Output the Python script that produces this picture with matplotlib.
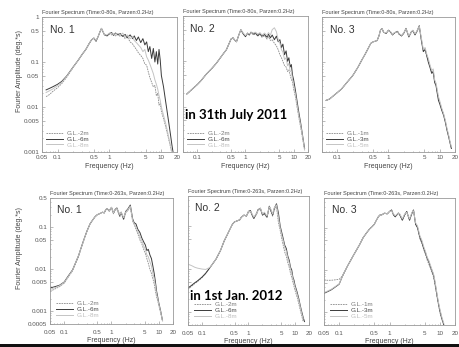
import numpy as np
import matplotlib
matplotlib.use("Agg")
import matplotlib.pyplot as plt
from matplotlib.ticker import FixedLocator, NullFormatter, LogLocator
from matplotlib.patches import Rectangle

plt.rcParams['font.family'] = ['Liberation Sans', 'DejaVu Sans']

# frequency grid (Hz) shared by every spectrum
freq = [0.05, 0.06, 0.07, 0.08, 0.1, 0.12, 0.15, 0.2, 0.25, 0.3, 0.35, 0.4, 0.45, 0.5,
        0.55, 0.6, 0.65, 0.7, 0.75, 0.8, 0.9, 1.0, 1.1, 1.2, 1.3, 1.5, 1.6, 1.8, 2.0,
        2.2, 2.5, 2.8, 3.0, 3.3, 3.6, 4.0, 4.4, 4.8, 5.2, 5.6, 6.0, 6.5, 7.0, 7.5, 8.0,
        8.5, 9.0, 9.5, 10, 11, 12, 13, 14, 15, 16, 17, 18, 20]

# ---- 31th July 2011 (Time 0-80s) ----
no1_top_2m = [None, 0.017, 0.019, 0.022, 0.027, 0.033, 0.046, 0.076, 0.11, 0.15, 0.19, 0.25, 0.31, 0.34,
              0.29, 0.36, 0.45, 0.55, 0.47, 0.41, 0.39, 0.42, 0.40, 0.42, 0.38, 0.41, 0.37, 0.40, 0.33,
              0.36, 0.28, 0.25, 0.22, 0.19, 0.16, 0.14, 0.12, 0.09, 0.085, 0.06, 0.045, 0.035, 0.028, 0.03, 0.018,
              0.02, 0.011, 0.012, 0.008, 0.0055, 0.0038, 0.0026, 0.0018, 0.0013, 0.0009, None, None, None]
no1_top_6m = [None, 0.024, 0.026, 0.028, 0.032, 0.037, 0.049, 0.078, 0.11, 0.15, 0.19, 0.25, 0.31, 0.34,
              0.29, 0.36, 0.46, 0.56, 0.47, 0.40, 0.38, 0.43, 0.45, 0.39, 0.44, 0.40, 0.43, 0.37, 0.41,
              0.35, 0.40, 0.33, 0.38, 0.30, 0.36, 0.27, 0.33, 0.24, 0.28, 0.17, 0.22, 0.12, 0.20, 0.10, 0.17,
              0.09, 0.19, 0.11, 0.05, 0.028, 0.014, 0.0075, 0.0042, 0.0024, 0.0014, 0.0009, None, None]
no1_top_8m = [None, 0.021, 0.023, 0.025, 0.030, 0.035, 0.048, 0.077, 0.11, 0.15, 0.19, 0.25, 0.31, 0.34,
              0.30, 0.36, 0.46, 0.56, 0.48, 0.40, 0.40, 0.44, 0.43, 0.41, 0.42, 0.43, 0.39, 0.44, 0.36,
              0.40, 0.33, 0.37, 0.30, 0.27, 0.24, 0.21, 0.17, 0.19, 0.13, 0.11, 0.09, 0.07, 0.055, 0.04, 0.032,
              0.025, 0.018, 0.014, 0.010, 0.0065, 0.0045, 0.003, 0.002, 0.0014, 0.001, None, None, None]

no2_top_2m = [None, 0.019, 0.022, 0.025, 0.031, 0.038, 0.051, 0.070, 0.092, 0.12, 0.15, 0.18, 0.24, 0.31,
              0.33, 0.29, 0.27, 0.34, 0.42, 0.49, 0.41, 0.36, 0.40, 0.39, 0.42, 0.38, 0.41, 0.36, 0.39,
              0.34, 0.37, 0.31, 0.35, 0.29, 0.30, 0.25, 0.22, 0.18, 0.14, 0.12, 0.10, 0.08, 0.075, 0.06, 0.065,
              0.05, 0.04, 0.035, 0.025, 0.016, 0.009, 0.0055, 0.0036, 0.0024, 0.0016, 0.0011, None, None]
no2_top_6m = [None, 0.019, 0.022, 0.025, 0.031, 0.038, 0.051, 0.070, 0.092, 0.12, 0.15, 0.18, 0.24, 0.31,
              0.33, 0.29, 0.27, 0.34, 0.42, 0.50, 0.40, 0.35, 0.42, 0.38, 0.44, 0.40, 0.43, 0.37, 0.41,
              0.36, 0.39, 0.34, 0.40, 0.33, 0.38, 0.30, 0.36, 0.27, 0.30, 0.20, 0.24, 0.14, 0.17, 0.10, 0.12,
              0.075, 0.085, 0.05, 0.04, 0.022, 0.012, 0.007, 0.0045, 0.0028, 0.0018, 0.0012, None, None]
no2_top_8m = [None, 0.019, 0.022, 0.025, 0.031, 0.038, 0.051, 0.070, 0.092, 0.12, 0.15, 0.18, 0.24, 0.31,
              0.33, 0.29, 0.27, 0.34, 0.42, 0.50, 0.42, 0.37, 0.41, 0.40, 0.43, 0.42, 0.44, 0.40, 0.43,
              0.38, 0.42, 0.37, 0.43, 0.38, 0.50, 0.55, 0.45, 0.30, 0.25, 0.18, 0.16, 0.11, 0.12, 0.08, 0.09,
              0.06, 0.06, 0.04, 0.03, 0.018, 0.010, 0.006, 0.004, 0.0026, 0.0017, 0.0011, None, None]

no3_top_1m = [None, 0.014, 0.015, 0.017, 0.021, 0.025, 0.034, 0.050, 0.075, 0.11, 0.15, 0.20, 0.26, 0.28,
              0.29, 0.30, 0.38, 0.52, 0.55, 0.46, 0.43, 0.51, 0.46, 0.40, 0.44, 0.48, 0.42, 0.38, 0.44,
              0.54, 0.37, 0.46, 0.49, 0.41, 0.47, 0.60, 0.32, 0.18, 0.20, 0.13, 0.11, 0.08, 0.06, 0.065, 0.038,
              0.032, 0.022, 0.016, 0.013, 0.009, 0.0068, 0.0047, 0.0031, 0.0023, 0.0016, 0.0012, None, None]
no3_top_3m = [None, 0.014, 0.015, 0.017, 0.021, 0.025, 0.034, 0.050, 0.075, 0.11, 0.15, 0.20, 0.26, 0.28,
              0.29, 0.30, 0.38, 0.52, 0.55, 0.46, 0.43, 0.51, 0.46, 0.40, 0.44, 0.48, 0.42, 0.38, 0.44,
              0.56, 0.36, 0.47, 0.50, 0.40, 0.48, 0.64, 0.30, 0.17, 0.19, 0.14, 0.10, 0.075, 0.056, 0.06, 0.035,
              0.03, 0.02, 0.014, 0.012, 0.0085, 0.0065, 0.0045, 0.003, 0.0022, 0.0016, 0.0012, None, None]
no3_top_5m = [None, 0.014, 0.015, 0.017, 0.021, 0.025, 0.034, 0.050, 0.075, 0.11, 0.15, 0.20, 0.26, 0.28,
              0.29, 0.30, 0.38, 0.52, 0.55, 0.46, 0.44, 0.50, 0.47, 0.41, 0.45, 0.47, 0.43, 0.39, 0.45,
              0.55, 0.38, 0.46, 0.51, 0.42, 0.49, 0.62, 0.34, 0.19, 0.21, 0.15, 0.12, 0.085, 0.065, 0.07, 0.04,
              0.034, 0.024, 0.017, 0.014, 0.0095, 0.007, 0.005, 0.0033, 0.0024, 0.0017, 0.0013, None, None]

# ---- 1st Jan. 2012 (Time 0-263s) ----
no1_bot_2m = [0.0030, 0.0033, 0.0036, 0.0039, 0.0047, 0.0064, 0.0092, 0.020, 0.043, 0.078, 0.12, 0.15, 0.18, 0.20,
              0.21, 0.22, 0.23, 0.22, 0.25, 0.27, 0.24, 0.29, 0.21, 0.26, 0.27, 0.18, 0.22, 0.15, 0.22,
              0.25, 0.30, 0.14, 0.12, 0.09, 0.07, 0.05, 0.04, 0.03, 0.024, 0.018, 0.014, 0.01, 0.008, 0.006, 0.0045,
              0.003, 0.0022, 0.0018, 0.0014, 0.0009, 0.0006, None, None, None, None, None, None, None]
no1_bot_6m = [0.0036, 0.0038, 0.0040, 0.0042, 0.0050, 0.0068, 0.0097, 0.021, 0.045, 0.080, 0.12, 0.15, 0.18, 0.20,
              0.21, 0.22, 0.23, 0.22, 0.26, 0.28, 0.25, 0.30, 0.22, 0.27, 0.29, 0.19, 0.23, 0.16, 0.24,
              0.27, 0.34, 0.16, 0.13, 0.12, 0.09, 0.075, 0.055, 0.045, 0.038, 0.028, 0.03, 0.022, 0.018, 0.012, 0.008,
              0.005, 0.003, 0.0022, 0.0016, 0.001, 0.0006, None, None, None, None, None, None, None]
no1_bot_8m = [0.0033, 0.0036, 0.0038, 0.0041, 0.0049, 0.0066, 0.0095, 0.021, 0.044, 0.079, 0.12, 0.15, 0.18, 0.20,
              0.21, 0.22, 0.23, 0.22, 0.26, 0.28, 0.25, 0.30, 0.22, 0.27, 0.28, 0.20, 0.23, 0.17, 0.23,
              0.26, 0.32, 0.15, 0.12, 0.10, 0.08, 0.06, 0.048, 0.036, 0.03, 0.022, 0.02, 0.015, 0.012, 0.008, 0.006,
              0.004, 0.0026, 0.002, 0.0015, 0.00095, 0.0006, None, None, None, None, None, None, None]

no2_bot_2m = [0.0034, 0.0040, 0.0046, 0.0051, 0.0063, 0.0078, 0.011, 0.017, 0.027, 0.045, 0.063, 0.085, 0.11, 0.125,
              0.13, 0.135, 0.14, 0.16, 0.17, 0.18, 0.17, 0.21, 0.22, 0.18, 0.15, 0.19, 0.23, 0.25, 0.18,
              0.19, 0.16, 0.27, 0.22, 0.17, 0.24, 0.28, 0.12, 0.08, 0.05, 0.035, 0.025, 0.02, 0.014, 0.011, 0.008,
              0.0065, 0.005, 0.004, 0.0032, 0.0023, 0.0016, 0.0011, 0.0008, 0.0006, None, None, None, None]
no2_bot_6m = [0.0036, 0.0042, 0.0048, 0.0053, 0.0065, 0.0080, 0.011, 0.017, 0.027, 0.045, 0.063, 0.085, 0.11, 0.125,
              0.13, 0.135, 0.14, 0.16, 0.17, 0.18, 0.17, 0.22, 0.23, 0.18, 0.15, 0.20, 0.24, 0.26, 0.18,
              0.20, 0.16, 0.29, 0.24, 0.18, 0.26, 0.33, 0.20, 0.10, 0.07, 0.05, 0.036, 0.03, 0.02, 0.016, 0.011,
              0.0095, 0.0065, 0.0055, 0.0042, 0.003, 0.0021, 0.0014, 0.001, 0.00075, 0.0006, None, None, None]
no2_bot_8m = [0.013, 0.012, 0.011, 0.0105, 0.010, 0.0098, 0.011, 0.017, 0.027, 0.045, 0.063, 0.085, 0.11, 0.125,
              0.13, 0.135, 0.14, 0.16, 0.17, 0.18, 0.17, 0.22, 0.22, 0.19, 0.16, 0.20, 0.23, 0.26, 0.19,
              0.21, 0.17, 0.28, 0.25, 0.19, 0.27, 0.31, 0.16, 0.09, 0.06, 0.045, 0.032, 0.026, 0.018, 0.014, 0.01,
              0.008, 0.006, 0.0048, 0.0038, 0.0027, 0.0019, 0.0013, 0.0009, 0.0007, None, None, None, None]

no3_bot_1m = [0.0057, 0.0057, 0.0057, 0.0058, 0.0060, 0.0075, 0.013, 0.024, 0.038, 0.058, 0.075, 0.092, 0.105, 0.12,
              0.15, 0.18, 0.20, 0.20, 0.21, 0.22, 0.21, 0.24, 0.26, 0.20, 0.18, 0.22, 0.20, 0.15, 0.20,
              0.24, 0.15, 0.22, 0.26, 0.12, 0.10, 0.055, 0.042, 0.03, 0.023, 0.017, 0.014, 0.011, 0.0085, 0.0068, 0.0045,
              0.003, 0.002, 0.0014, 0.001, 0.00065, None, None, None, None, None, None, None, None]
no3_bot_3m = [0.0028, 0.0031, 0.0034, 0.0038, 0.0046, 0.0078, 0.013, 0.024, 0.038, 0.058, 0.075, 0.092, 0.105, 0.12,
              0.15, 0.18, 0.20, 0.20, 0.21, 0.22, 0.21, 0.24, 0.26, 0.20, 0.18, 0.22, 0.20, 0.15, 0.20,
              0.24, 0.15, 0.22, 0.26, 0.12, 0.10, 0.06, 0.045, 0.032, 0.025, 0.019, 0.016, 0.012, 0.0095, 0.0075, 0.005,
              0.0032, 0.0021, 0.0015, 0.0011, 0.0007, 0.0005, None, None, None, None, None, None, None]
no3_bot_5m = [0.0029, 0.0032, 0.0035, 0.0039, 0.0047, 0.0078, 0.013, 0.024, 0.038, 0.058, 0.075, 0.092, 0.105, 0.12,
              0.15, 0.18, 0.20, 0.20, 0.21, 0.22, 0.21, 0.24, 0.25, 0.21, 0.19, 0.22, 0.21, 0.16, 0.21,
              0.23, 0.16, 0.23, 0.25, 0.13, 0.11, 0.065, 0.05, 0.035, 0.027, 0.02, 0.017, 0.013, 0.01, 0.008, 0.0055,
              0.0035, 0.0023, 0.0016, 0.0012, 0.00075, 0.00055, None, None, None, None, None, None, None]

x_ticks = [0.05, 0.1, 0.5, 1, 5, 10, 20]
x_ticklabels = ['0.05', '0.1', '0.5', '1', '5', '10', '20']
y_ticks_top = [1, 0.5, 0.1, 0.05, 0.01, 0.005, 0.001]
y_ticks_bot = [0.5, 0.1, 0.05, 0.01, 0.005, 0.001, 0.0005]
legend_a = ['G.L.-2m', 'G.L.-6m', 'G.L.-8m']
legend_b = ['G.L.-1m', 'G.L.-3m', 'G.L.-5m']
title_top = 'Fourier Spectrum (Time:0-80s, Parzen:0.2Hz)'
title_bot = 'Fourier Spectrum (Time:0-263s, Parzen:0.2Hz)'

W, H = 460, 347
fig = plt.figure(figsize=(W / 100, H / 100), dpi=100)

# (left, top, width, height) in pixels
boxes = [(42, 17, 135, 135), (183, 16, 125, 136), (322, 17, 133, 135),
         (50, 198, 123, 126), (188, 196, 121, 129), (324, 198, 131, 127)]

panels = [
    ('No. 1', [no1_top_2m, no1_top_6m, no1_top_8m], legend_a, 'top', True, True),
    ('No. 2', [no2_top_2m, no2_top_6m, no2_top_8m], legend_a, 'top', False, False),
    ('No. 3', [no3_top_1m, no3_top_3m, no3_top_5m], legend_b, 'top', False, False),
    ('No. 1', [no1_bot_2m, no1_bot_6m, no1_bot_8m], legend_a, 'bot', True, True),
    ('No. 2', [no2_bot_2m, no2_bot_6m, no2_bot_8m], legend_a, 'bot', False, True),
    ('No. 3', [no3_bot_1m, no3_bot_3m, no3_bot_5m], legend_b, 'bot', False, True),
]

styles = [dict(color='#8a8a8a', lw=0.6, ls=(0, (2, 1))),
          dict(color='#3a3a3a', lw=0.7, ls='-'),
          dict(color='#c4c4c4', lw=0.7, ls='-')]
label_colors = ['#777777', '#444444', '#bbbbbb']

f = np.array(freq, dtype=float)
for (l, t, w, h), (name, series, labels, row, ylab, first_x) in zip(boxes, panels):
    ax = fig.add_axes([l / W, 1 - (t + h) / H, w / W, h / H])
    for s, st, lab in zip(series, styles, labels):
        ax.plot(f, np.array(s, dtype=float), label=lab, **st)
    ax.set_xscale('log')
    ax.set_yscale('log')
    ax.set_xlim(0.05, 20)
    if row == 'top':
        ax.set_ylim(0.001, 1)
        yt = y_ticks_top
        ax.set_title(title_top, fontsize=4.0, color='#444444', pad=2, loc='left')
    else:
        ax.set_ylim(0.0005, 0.5)
        yt = y_ticks_bot
        ax.set_title(title_bot, fontsize=4.0, color='#444444', pad=2, loc='left')

    ax.xaxis.set_major_locator(FixedLocator(x_ticks))
    xl = list(x_ticklabels)
    if not first_x:
        xl[0] = ''
    ax.set_xticklabels(xl)
    ax.yaxis.set_major_locator(FixedLocator(yt))
    ax.xaxis.set_minor_locator(LogLocator(subs=np.arange(2, 10)))
    ax.yaxis.set_minor_locator(LogLocator(subs=np.arange(2, 10)))
    ax.xaxis.set_minor_formatter(NullFormatter())
    ax.yaxis.set_minor_formatter(NullFormatter())
    ax.tick_params(which='both', direction='in', colors='#888888', labelcolor='#555555',
                   labelsize=4.5, width=0.4, pad=2)
    ax.tick_params(which='major', length=2)
    ax.tick_params(which='minor', length=1)
    if row == 'bot':
        ax.tick_params(axis='x', which='major', pad=4)
    if ylab:
        ax.set_yticklabels([str(v) for v in yt])
        ax.set_ylabel('Fourier Amplitude (deg.*s)', fontsize=5, color='#444444')
        ax.yaxis.set_label_coords((23 - l) / w, 0.6)
    else:
        ax.set_yticklabels([])
    ax.set_xlabel('Frequency (Hz)', fontsize=5, color='#444444',
                  labelpad=2 if row == 'top' else 1.5)
    for sp in ax.spines.values():
        sp.set_color('#999999')
        sp.set_linewidth(0.6)

    ax.text(0.06, 0.905, name, transform=ax.transAxes, fontsize=7.5, color='#333333',
            va='center', ha='left')
    leg = ax.legend(loc='lower left', frameon=False, fontsize=4.5, handlelength=2.6,
                    labelspacing=0.05, borderaxespad=0.6 if row == 'bot' else 0.3,
                    handletextpad=0.6)
    for txt, c in zip(leg.get_texts(), label_colors):
        txt.set_color(c)

fig.text(185 / W, 1 - 115 / H, 'in 31th July 2011', fontsize=9.5, fontweight='bold',
         family=['Lato', 'DejaVu Sans'], va='center', ha='left', color='black')
fig.text(190 / W, 1 - 296 / H, 'in 1st Jan. 2012', fontsize=9.5, fontweight='bold',
         family=['Lato', 'DejaVu Sans'], va='center', ha='left', color='black')

# dark strip along the bottom edge of the scan
fig.add_artist(Rectangle((0, 0), 1, 3.0 / H, transform=fig.transFigure,
                         facecolor='#111111', edgecolor='none', zorder=10))

fig.savefig('out.png', dpi=100)
